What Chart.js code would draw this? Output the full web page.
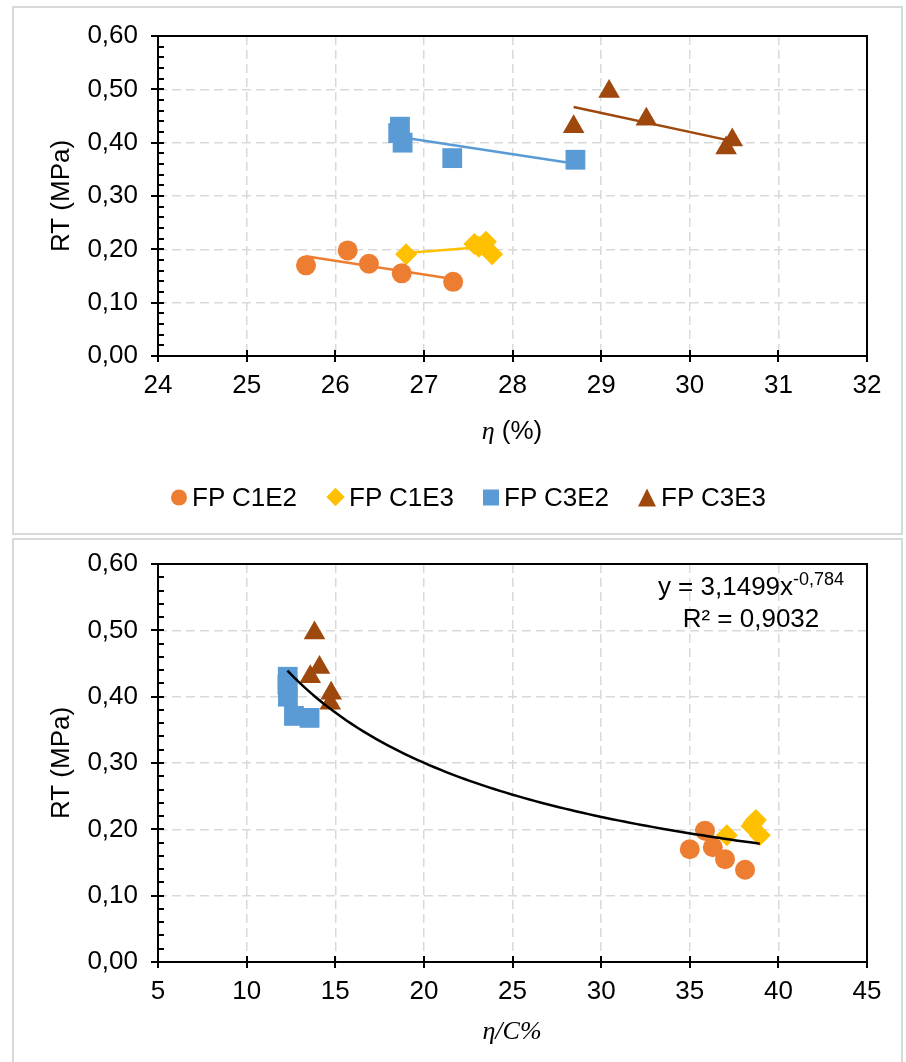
<!DOCTYPE html>
<html>
<head>
<meta charset="utf-8">
<script src="https://cdn.jsdelivr.net/npm/chart.js@4.4.1/dist/chart.umd.min.js"></script>
<style>
  body { margin: 0; width: 906px; height: 1062px; overflow: hidden; background: #fff;
         font-family: 'Liberation Sans', Arial, sans-serif; color: #000; }
  .panel { position: absolute; left: 12px; width: 887px; border: 2px solid #d9d9d9; background: #fff; }
  #panel1 { top: 6px; height: 525px; }
  #panel2 { top: 538px; height: 540px; }
  canvas { position: absolute; left: 0; top: 0; }
  .x-title { position: absolute; left: 498px; font-size: 26px; white-space: nowrap;
             transform: translate(-50%, -50%); }
  .math { font-family: 'Liberation Serif', 'DejaVu Serif', serif; font-style: italic; }
  .legend { position: absolute; left: 157px; top: 489px; transform: translateY(-50%);
            display: flex; align-items: center; font-size: 26px; white-space: nowrap; }
  .legend-item { display: flex; align-items: center; margin-right: 29px; }
  .mk { display: inline-block; margin-right: 5px; }
  .mk-circle   { width: 16px; height: 16px; border-radius: 50%; }
  .mk-rectRot  { width: 13px; height: 13px; transform: rotate(45deg); margin: 0 7px 0 3px; }
  .mk-rect     { width: 16px; height: 16px; }
  .mk-triangle { width: 0; height: 0; border-left: 9px solid transparent; border-right: 9px solid transparent;
                 border-bottom: 18px solid; background: none !important; }
  .eq { position: absolute; left: 737px; top: 62px; transform: translate(-50%, -50%);
        font-size: 26px; line-height: 29px; text-align: center; white-space: nowrap; }
  .eq sup { font-size: 18px; vertical-align: 0; position: relative; top: -10px; }
</style>
</head>
<body>
<div class="panel" id="panel1">
  <canvas id="chartEta" width="887" height="525"></canvas>
  <div class="x-title" style="top:422px"><span class="math">η</span> (%)</div>
  <div class="legend" id="legendEta"></div>
</div>
<div class="panel" id="panel2">
  <canvas id="chartEtaC" width="887" height="540"></canvas>
  <div class="x-title" style="top:490px"><span class="math">η/C%</span></div>
  <div class="eq" id="eqLabel"></div>
</div>
<script>
'use strict';

// ---- values ----
const SERIES_LABELS  = ['FP C1E2', 'FP C1E3', 'FP C3E2', 'FP C3E3'];
const SERIES_COLORS  = ['#ED7D31', '#FFC000', '#5B9BD5', '#9E480E'];
const SERIES_MARKERS = ['circle', 'rectRot', 'rect', 'triangle'];
const MARKER_RADIUS  = { circle: 10, rectRot: 11, rect: 14, triangle: 12.5 };

// η (%)
const ETA_C1E2 = [25.67, 26.14, 26.38, 26.75, 27.33];
const ETA_C1E3 = [26.80, 27.57, 27.62, 27.70, 27.77];
const ETA_C3E2 = [26.73, 26.71, 26.76, 27.32, 28.71];
const ETA_C3E3 = [28.69, 29.09, 29.51, 30.41, 30.48];

// η/C (%)
const ETAC_C1E2 = [35.00, 35.86, 36.30, 36.99, 38.12];
const ETAC_C1E3 = [37.09, 38.60, 38.48, 38.73, 38.95];
const ETAC_C3E2 = [12.32, 12.30, 12.33, 12.67, 13.55];
const ETAC_C3E3 = [13.59, 13.83, 14.11, 14.72, 14.77];

// RT (MPa)
const RT_C1E2 = [0.170, 0.198, 0.173, 0.155, 0.139];
const RT_C1E3 = [0.191, 0.210, 0.205, 0.214, 0.191];
const RT_C3E2 = [0.430, 0.418, 0.400, 0.371, 0.368];
const RT_C3E3 = [0.430, 0.496, 0.444, 0.390, 0.405];

const X_TICKS_ETA  = [24, 25, 26, 27, 28, 29, 30, 31, 32];
const X_TICKS_ETAC = [5, 10, 15, 20, 25, 30, 35, 40, 45];
const Y_TICKS_RT   = [0, 0.1, 0.2, 0.3, 0.4, 0.5, 0.6];

const EQ_TEXT = 'y = 3,1499x';
const EQ_EXP  = '-0,784';
const EQ_R2   = 'R² = 0,9032';

const FONT = "'Liberation Sans', Arial, sans-serif";

// ---- fits ----
function linearFit(xs, ys) {
  const n = xs.length;
  const mx = xs.reduce((a, b) => a + b, 0) / n;
  const my = ys.reduce((a, b) => a + b, 0) / n;
  let sxy = 0, sxx = 0;
  xs.forEach((x, i) => { sxy += (x - mx) * (ys[i] - my); sxx += (x - mx) * (x - mx); });
  const slope = sxy / sxx;
  return { slope, intercept: my - slope * mx };
}

function linearTrend(xs, ys) {
  const f = linearFit(xs, ys);
  const lo = Math.min(...xs), hi = Math.max(...xs);
  return [lo, hi].map(x => ({ x, y: f.intercept + f.slope * x }));
}

function powerTrend(xs, ys, steps) {
  const f = linearFit(xs.map(Math.log), ys.map(Math.log));
  const a = Math.exp(f.intercept);
  const lo = Math.min(...xs), hi = Math.max(...xs);
  const pts = [];
  for (let i = 0; i <= steps; i++) {
    const x = lo + (hi - lo) * i / steps;
    pts.push({ x, y: a * Math.pow(x, f.slope) });
  }
  return pts;
}

const toPoints = (xs, ys) => xs.map((x, i) => ({ x, y: ys[i] }));

function markerDataset(k, points) {
  const style = SERIES_MARKERS[k];
  return {
    label: SERIES_LABELS[k],
    data: points,
    pointStyle: style,
    pointRadius: MARKER_RADIUS[style],
    pointBackgroundColor: SERIES_COLORS[k],
    pointBorderWidth: 0,
    showLine: false,
    order: 1,
  };
}

function trendDataset(points, color) {
  return {
    data: points,
    showLine: true,
    borderColor: color,
    borderWidth: 2.5,
    pointRadius: 0,
    tension: 0,
    order: 0,
  };
}

// frame, axis lines and tick marks like the spreadsheet plot area
const axisFrame = {
  id: 'axisFrame',
  beforeDatasetsDraw(chart) {
    const { ctx, chartArea: a, scales: { x, y } } = chart;
    ctx.save();
    ctx.strokeStyle = '#000';
    ctx.lineWidth = 2;
    ctx.strokeRect(a.left, a.top, a.right - a.left, a.bottom - a.top);
    ctx.beginPath();
    const yMax = Y_TICKS_RT[Y_TICKS_RT.length - 1];
    for (let i = 0; i <= 30; i++) {
      const py = Math.round(y.getPixelForValue(yMax * i / 30));
      ctx.moveTo(a.left - (i % 5 === 0 ? 7 : 0), py);
      ctx.lineTo(a.left + 6, py);
    }
    x.ticks.forEach(t => {
      const px = Math.round(x.getPixelForValue(t.value));
      ctx.moveTo(px, a.bottom - 6);
      ctx.lineTo(px, a.bottom + 6);
    });
    ctx.stroke();
    ctx.restore();
  },
};

function buildScatter(canvasId, datasets, xTicks, padBottom, padTop) {
  const tickFont = { family: FONT, size: 26 };
  const grid = { color: '#d9d9d9', lineWidth: 1.5, drawTicks: false };
  return new Chart(document.getElementById(canvasId), {
    type: 'scatter',
    data: { datasets },
    plugins: [axisFrame],
    options: {
      responsive: false,
      animation: false,
      devicePixelRatio: 1,
      layout: { padding: { top: padTop, right: 34, bottom: padBottom, left: 0 } },
      plugins: { legend: { display: false }, tooltip: { enabled: false } },
      events: [],
      scales: {
        x: {
          type: 'linear',
          min: xTicks[0],
          max: xTicks[xTicks.length - 1],
          afterBuildTicks: s => { s.ticks = xTicks.map(v => ({ value: v })); },
          afterFit: s => { s.height = 60; s.paddingLeft = 0; s.paddingRight = 0; },
          ticks: { font: tickFont, color: '#000', padding: 14, autoSkip: false, maxRotation: 0,
                   callback: v => String(v) },
          grid,
          border: { display: false, dash: [9, 5] },
        },
        y: {
          min: Y_TICKS_RT[0],
          max: Y_TICKS_RT[Y_TICKS_RT.length - 1],
          afterBuildTicks: s => { s.ticks = Y_TICKS_RT.map(v => ({ value: v })); },
          afterFit: s => { s.width = 144; s.paddingTop = 0; s.paddingBottom = 0; },
          ticks: { font: tickFont, color: '#000', padding: 20, autoSkip: false,
                   callback: v => v.toFixed(2).replace('.', ',') },
          grid,
          border: { display: false, dash: [9, 5] },
          title: { display: true, text: 'RT (MPa)', color: '#000', font: tickFont,
                   padding: { top: 32, bottom: 0 } },
        },
      },
    },
  });
}

function renderLegend(containerId) {
  const container = document.getElementById(containerId);
  container.innerHTML = SERIES_LABELS.map((label, k) => {
    const style = SERIES_MARKERS[k];
    const color = SERIES_COLORS[k];
    const paint = style === 'triangle' ? `border-bottom-color:${color};` : `background:${color};`;
    return `
      <div class="legend-item">
        <span class="mk mk-${style}" style="${paint}"></span>
        <span>${label}</span>
      </div>`;
  }).join('');
}

// ---- chart 1: RT vs η ----
const etaSets = [ETA_C1E2, ETA_C1E3, ETA_C3E2, ETA_C3E3];
const etacSets = [ETAC_C1E2, ETAC_C1E3, ETAC_C3E2, ETAC_C3E3];
const rtSets = [RT_C1E2, RT_C1E3, RT_C3E2, RT_C3E3];

const topDatasets = [];
etaSets.forEach((xs, k) => {
  topDatasets.push(trendDataset(linearTrend(xs, rtSets[k]), SERIES_COLORS[k]));
  topDatasets.push(markerDataset(k, toPoints(xs, rtSets[k])));
});
buildScatter('chartEta', topDatasets, X_TICKS_ETA, 117, 28);
renderLegend('legendEta');

// ---- chart 2: RT vs η/C with power trend over all groups ----
const allEtaC = [].concat(...etacSets);
const allRt = [].concat(...rtSets);
const bottomDatasets = [trendDataset(powerTrend(allEtaC, allRt, 80), '#000')];
etacSets.forEach((xs, k) => bottomDatasets.push(markerDataset(k, toPoints(xs, rtSets[k]))));
buildScatter('chartEtaC', bottomDatasets, X_TICKS_ETAC, 58, 24);

document.getElementById('eqLabel').innerHTML =
  `${EQ_TEXT}<sup>${EQ_EXP}</sup><br>${EQ_R2}`;
</script>
</body>
</html>
